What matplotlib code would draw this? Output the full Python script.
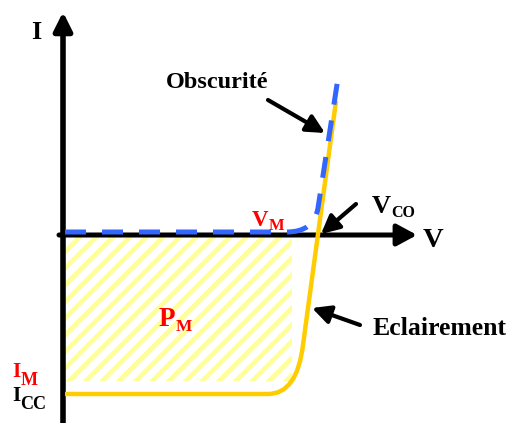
import matplotlib
matplotlib.use("Agg")
import matplotlib.pyplot as plt
from matplotlib.path import Path
from matplotlib.patches import PathPatch, Rectangle

# Schematic I-V curve of a solar cell, drawn in picture coordinates (pixels, y down)
# Illuminated curve: flat at Icc, rounded knee, then steep rise through Vco
light_pts = [(65, 394), (268, 394), (297, 394), (303, 345), (336, 101)]
light_codes = [Path.MOVETO, Path.LINETO, Path.CURVE3, Path.CURVE3, Path.LINETO]

# Dark curve: flat just above the V axis, then rising along the same slope
dark_pts = [(65, 232), (287, 232), (314, 232), (318, 208), (338, 78)]
dark_codes = [Path.MOVETO, Path.LINETO, Path.CURVE3, Path.CURVE3, Path.LINETO]

# Maximum power rectangle: (x0, y0, width, height)
pm_rect = (65, 237, 227, 144)

# Axes: origin, end of I axis, end of V axis, bottom of I axis
origin = (63, 235)
i_axis_top = (63, 12)
i_axis_bottom = (63, 423)
v_axis_start = (59, 235)
v_axis_end = (417, 235)

# Pointer arrows: (tail, tip)
pointers = [
    ((268, 100), (325, 133)),  # Obscurite
    ((356, 204), (321, 234)),  # Vco
    ((360, 325), (312, 308)),  # Eclairement
]

YELLOW = "#FFCC00"
BLUE = "#3366FF"
RED = "#FF0000"
SERIF = "Liberation Serif"

fig = plt.figure(figsize=(5.21, 4.23), dpi=100)
ax = fig.add_axes([0, 0, 1, 1])
ax.set_xlim(0, 521)
ax.set_ylim(423, 0)
ax.axis("off")

# hatched P_M area
plt.rcParams["hatch.linewidth"] = 3.4
ax.add_patch(Rectangle(pm_rect[:2], pm_rect[2], pm_rect[3], facecolor="none",
                       edgecolor="#FFFF99", hatch="//", linewidth=0, zorder=1))

# curves
ax.add_patch(PathPatch(Path(light_pts, light_codes), facecolor="none",
                       edgecolor=YELLOW, linewidth=3.2, capstyle="butt", zorder=3))
dark = PathPatch(Path(dark_pts, dark_codes), facecolor="none", edgecolor=BLUE,
                 linewidth=3.6, linestyle=(0, (4.2, 3.2)), zorder=4)
ax.add_patch(dark)

# axes with arrows
ax.plot([i_axis_bottom[0], origin[0]], [i_axis_bottom[1], origin[1]], color="black",
        lw=4, solid_capstyle="butt", zorder=2)
ax.annotate("", xy=i_axis_top, xytext=origin,
            arrowprops=dict(arrowstyle="-|>,head_length=1.1,head_width=0.55",
                            color="black", lw=4, shrinkA=0, shrinkB=0), zorder=2)
ax.annotate("", xy=v_axis_end, xytext=v_axis_start,
            arrowprops=dict(arrowstyle="-|>,head_length=1.2,head_width=0.65",
                            color="black", lw=3.6, shrinkA=0, shrinkB=0), zorder=2)

for tail, tip in pointers:
    ax.annotate("", xy=tip, xytext=tail,
                arrowprops=dict(arrowstyle="-|>,head_length=1.1,head_width=0.55",
                                color="black", lw=3, shrinkA=0, shrinkB=0), zorder=5)


def label(x, y, main, sub=None, size=15, subsize=11, color="black", drop=2):
    t = ax.text(x, y, main, fontsize=size, fontweight="bold", family=SERIF,
                color=color, ha="left", va="baseline", zorder=6)
    if sub:
        ax.annotate(sub, xy=(1, 0), xycoords=t, xytext=(0, -drop),
                    textcoords="offset points", fontsize=subsize, fontweight="bold",
                    family=SERIF, color=color, ha="left", va="bottom", zorder=6)


label(31, 39, "I", size=19)
label(423, 247, "V", size=20.5)
label(372, 213, "V", "CO", size=19, subsize=11.5, drop=2)
label(252, 226, "V", "M", size=16.5, subsize=12, color=RED, drop=2)
label(159, 326, "P", "M", size=19.5, subsize=12.5, color=RED, drop=2)
label(12, 377, "I", "M", size=15.5, subsize=13, color=RED, drop=5)
label(12, 401, "I", "CC", size=15.5, subsize=13, drop=5)
label(166, 88, "Obscurité", size=17.5)
label(373, 335, "Eclairement", size=18.5)

fig.savefig("out.png", dpi=100)
